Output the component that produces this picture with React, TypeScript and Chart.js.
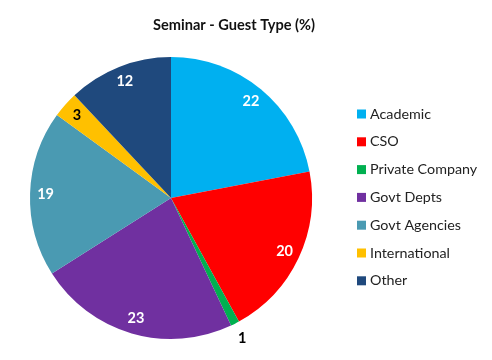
import React, { useEffect, useRef } from "react";
import { Chart, registerables } from "chart.js";

Chart.register(...registerables);

const chartTitle = "Seminar - Guest Type (%)";
const categories = ["Academic", "CSO", "Private Company", "Govt Depts", "Govt Agencies", "International", "Other"];
const shares = [22, 20, 1, 23, 19, 3, 12];
const sliceColors = ["#00B0F0", "#FF0000", "#00B050", "#7030A0", "#4A9AB2", "#FFC000", "#1F497D"];
const darkLabelCategories = ["Private Company", "International"];
const outsideLabelCategories = ["Private Company"];

const FONT = "Lato, 'Open Sans', sans-serif";

const titlePlugin = {
  id: "customTitle",
  afterDraw(chart: any) {
    const ctx = chart.ctx;
    ctx.save();
    ctx.font = `bold 14.6px ${FONT}`;
    ctx.fillStyle = "#111";
    ctx.textAlign = "center";
    ctx.textBaseline = "middle";
    ctx.fillText(chartTitle, 234, 25);
    ctx.restore();
  },
};

const legendPlugin = {
  id: "customLegend",
  afterDraw(chart: any) {
    const ctx = chart.ctx;
    const ds = chart.data.datasets[0];
    ctx.save();
    ctx.font = `14.3px ${FONT}`;
    ctx.textBaseline = "middle";
    ctx.textAlign = "left";
    (chart.data.labels as string[]).forEach((lab, i) => {
      const y = 114 + i * 27.8;
      ctx.fillStyle = ds.backgroundColor[i];
      ctx.fillRect(357, y - 4.5, 9, 9);
      ctx.fillStyle = "#222";
      ctx.fillText(lab, 370, y);
    });
    ctx.restore();
  },
};

const valueLabelPlugin = {
  id: "valueLabels",
  afterDatasetsDraw(chart: any) {
    const ctx = chart.ctx;
    const meta = chart.getDatasetMeta(0);
    const labels = chart.data.labels as string[];
    const values = chart.data.datasets[0].data as number[];
    ctx.save();
    ctx.font = `bold 14.5px ${FONT}`;
    ctx.textAlign = "center";
    ctx.textBaseline = "middle";
    meta.data.forEach((arc: any, i: number) => {
      const { x, y, startAngle, endAngle, outerRadius } = arc.getProps(["x", "y", "startAngle", "endAngle", "outerRadius"], true);
      const mid = (startAngle + endAngle) / 2;
      const outside = outsideLabelCategories.includes(labels[i]);
      const r = outside ? outerRadius + 16 : outerRadius * 0.89;
      ctx.fillStyle = darkLabelCategories.includes(labels[i]) ? "#000" : "#fff";
      ctx.fillText(String(values[i]), x + Math.cos(mid) * r, y + Math.sin(mid) * r);
    });
    ctx.restore();
  },
};

export default function App() {
  const ref = useRef<HTMLCanvasElement>(null);
  useEffect(() => {
    document.body.style.margin = "0";
    const chart = new Chart(ref.current!, {
      type: "pie",
      data: {
        labels: categories,
        datasets: [
          {
            data: shares,
            backgroundColor: sliceColors,
            borderWidth: 0,
          },
        ],
      },
      options: {
        animation: false,
        responsive: false,
        maintainAspectRatio: false,
        layout: { padding: { left: 30, top: 57, right: 180, bottom: 21 } },
        plugins: {
          legend: { display: false },
          title: { display: false },
          tooltip: { enabled: false },
        },
      },
      plugins: [titlePlugin, legendPlugin, valueLabelPlugin],
    });
    return () => chart.destroy();
  }, []);
  return (
    <div style={{ width: 492, height: 360, background: "#fff" }}>
      <canvas ref={ref} width={492} height={360} style={{ display: "block" }} />
    </div>
  );
}
